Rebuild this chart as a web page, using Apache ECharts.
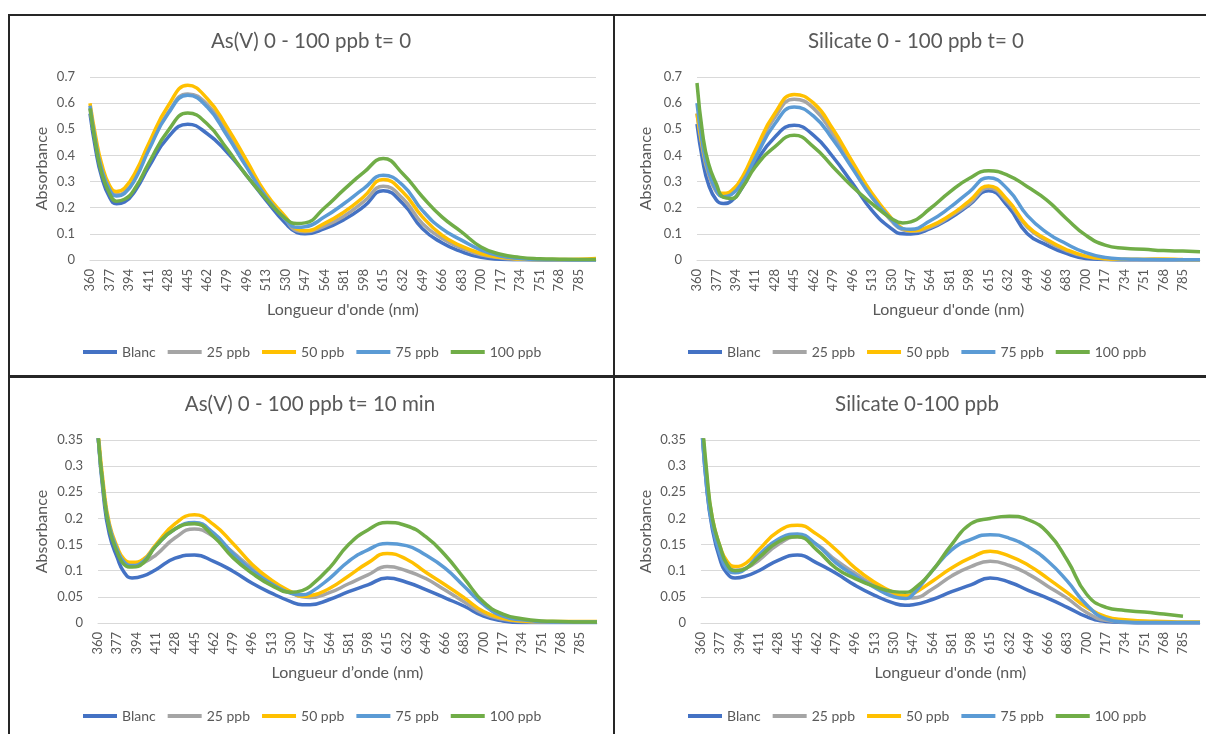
<!DOCTYPE html>
<html><head><meta charset="utf-8">
<script src="https://cdn.jsdelivr.net/npm/echarts@6/dist/echarts.min.js"></script>
<style>html,body{margin:0;padding:0;background:#fff}#c{width:1206px;height:734px}</style>
</head><body><div id="c"></div>
<script>
const wl = [360,365,370,377,383,390,400,411,428,445,462,479,496,513,530,540,547,564,581,598,615,632,649,666,683,700,717,734,751,768,785,800];
const xTickLabels = [360,377,394,411,428,445,462,479,496,513,530,547,564,581,598,615,632,649,666,683,700,717,734,751,768,785];
const seriesNames = ['Blanc','25 ppb','50 ppb','75 ppb','100 ppb'];

// As(V) 0 - 100 ppb t= 0
const asT0_blanc = [.56,.42,.32,.24,.215,.222,.27,.355,.47,.519,.483,.413,.324,.229,.14,.105,.10,.12,.155,.204,.265,.216,.12,.066,.032,.01,.003,.001,0,0,0,0];
const asT0_25 = [.58,.45,.35,.27,.25,.26,.32,.43,.565,.635,.595,.49,.37,.25,.155,.112,.108,.13,.168,.223,.282,.235,.14,.083,.045,.02,.008,.003,.001,0,0,0];
const asT0_50 = [.60,.47,.37,.285,.262,.275,.34,.445,.59,.668,.617,.509,.382,.254,.165,.118,.112,.14,.184,.242,.308,.26,.165,.095,.053,.025,.01,.004,.002,.002,.003,.006];
const asT0_75 = [.59,.45,.35,.27,.245,.255,.315,.42,.56,.63,.585,.477,.356,.242,.155,.125,.127,.165,.216,.273,.324,.286,.19,.12,.076,.038,.015,.006,.002,.001,0,0];
const asT0_100 = [.58,.44,.335,.255,.225,.232,.28,.37,.495,.562,.52,.426,.324,.235,.158,.14,.142,.2,.27,.335,.388,.33,.242,.165,.108,.05,.022,.01,.005,.003,.002,.002];

// Silicate 0 - 100 ppb t= 0
const siT0_blanc = [.52,.38,.29,.229,.216,.225,.28,.369,.47,.515,.477,.394,.293,.19,.12,.10,.099,.12,.159,.21,.265,.205,.10,.057,.025,.006,.002,0,0,0,0,0];
const siT0_25 = [.56,.42,.33,.26,.245,.255,.31,.41,.545,.615,.58,.48,.36,.24,.15,.115,.11,.125,.165,.215,.275,.22,.125,.072,.036,.013,.004,.001,0,0,0,0];
const siT0_50 = [.56,.43,.34,.27,.255,.265,.32,.42,.56,.633,.60,.50,.375,.255,.16,.12,.112,.13,.17,.225,.283,.228,.13,.078,.04,.015,.005,.003,.003,.004,.002,.001];
const siT0_75 = [.60,.44,.34,.265,.242,.25,.30,.39,.52,.585,.55,.46,.35,.24,.155,.12,.118,.15,.20,.26,.315,.27,.17,.105,.062,.028,.01,.004,.002,.001,.001,.001];
const siT0_100 = [.677,.48,.37,.29,.24,.235,.28,.356,.433,.477,.433,.356,.28,.216,.159,.142,.146,.197,.26,.312,.341,.324,.28,.229,.159,.095,.057,.045,.041,.036,.034,.032];

// As(V) 0 - 100 ppb t= 10 min
const asT10_blanc = [.36,.24,.17,.125,.097,.086,.09,.102,.124,.13,.118,.099,.076,.057,.041,.035,.035,.045,.06,.073,.086,.078,.064,.048,.032,.013,.004,.001,.001,.001,.001,.001];
const asT10_25 = [.36,.25,.185,.14,.118,.11,.115,.13,.163,.18,.165,.135,.105,.08,.058,.05,.049,.058,.075,.092,.108,.10,.085,.063,.04,.018,.007,.003,.002,.002,.002,.002];
const asT10_50 = [.37,.26,.19,.145,.122,.116,.122,.15,.19,.207,.188,.152,.112,.082,.06,.051,.052,.066,.09,.115,.133,.122,.097,.073,.048,.022,.009,.004,.003,.003,.003,.003];
const asT10_75 = [.36,.25,.185,.14,.117,.11,.118,.147,.18,.192,.172,.133,.10,.075,.057,.054,.058,.085,.118,.14,.152,.148,.13,.105,.07,.035,.013,.006,.003,.002,.002,.002];
const asT10_100 = [.36,.25,.18,.135,.112,.107,.115,.147,.18,.19,.165,.125,.095,.072,.059,.062,.07,.105,.15,.178,.192,.186,.165,.13,.085,.04,.017,.008,.004,.003,.002,.002];

// Silicate 0-100 ppb
const si_blanc = [.40,.26,.18,.12,.095,.086,.09,.10,.12,.13,.115,.095,.072,.053,.038,.034,.035,.045,.06,.073,.086,.078,.062,.047,.03,.012,.003,.001,0,0,0,0];
const si_25 = [.40,.27,.195,.14,.112,.101,.105,.12,.15,.165,.15,.12,.095,.072,.055,.049,.048,.065,.09,.108,.118,.11,.093,.07,.047,.02,.005,.002,.001,.001,.001,.001];
const si_50 = [.41,.28,.20,.145,.118,.108,.115,.14,.175,.187,.17,.14,.105,.078,.058,.052,.056,.08,.105,.125,.137,.128,.11,.085,.058,.03,.012,.006,.004,.003,.002,.002];
const si_75 = [.40,.26,.185,.13,.103,.096,.105,.13,.16,.17,.15,.115,.09,.068,.05,.047,.055,.10,.14,.16,.169,.162,.145,.118,.08,.035,.008,.002,.001,.001,.001,.001];
const si_100 = [.42,.29,.20,.145,.112,.10,.105,.125,.155,.165,.14,.105,.085,.07,.06,.059,.064,.10,.15,.19,.20,.204,.197,.172,.12,.055,.03,.024,.021,.017,.013,null];

const colors = ['#4472C4','#A5A5A5','#FFC000','#5B9BD5','#70AD47'];
const FONT = 'Lato, "Open Sans", sans-serif';
const TXT = '#595959';

const panels = [
  {title:'As(V) 0 - 100 ppb t= 0', xName:"Longueur d'onde (nm)", yMax:0.7, yInt:0.1,
   data:[asT0_blanc,asT0_25,asT0_50,asT0_75,asT0_100],
   grid:{left:90,top:77,width:506,height:183}, tx:311, ty:31, lx:83, ly:345, yGap:40},
  {title:'Silicate 0 - 100 ppb t= 0', xName:"Longueur d'onde (nm)", yMax:0.7, yInt:0.1,
   data:[siT0_blanc,siT0_25,siT0_50,siT0_75,siT0_100],
   grid:{left:697,top:77,width:503,height:183}, tx:916, ty:31, lx:688, ly:345, yGap:43},
  {title:'As(V) 0 - 100 ppb t= 10 min', xName:"Longueur d\u2019onde (nm)", yMax:0.35, yInt:0.05,
   data:[asT10_blanc,asT10_25,asT10_50,asT10_75,asT10_100],
   grid:{left:98,top:440,width:499,height:183}, tx:310, ty:394, lx:83, ly:709, yGap:48},
  {title:'Silicate 0-100 ppb', xName:"Longueur d'onde (nm)", yMax:0.35, yInt:0.05,
   data:[si_blanc,si_25,si_50,si_75,si_100],
   grid:{left:701,top:440,width:499,height:183}, tx:917, ty:394, lx:688, ly:709, yGap:47}
];

const option = {animation:false, backgroundColor:'#fff', title:[], grid:[], xAxis:[], yAxis:[], legend:[], series:[], graphic:[]};
panels.forEach((p,i)=>{
  option.title.push({text:p.title, left:p.tx, top:p.ty, textAlign:'center', padding:0,
    textStyle:{fontFamily:FONT, fontSize:20.5, fontWeight:'normal', color:TXT}});
  option.grid.push(Object.assign({containLabel:false}, p.grid));
  option.xAxis.push({type:'value', gridIndex:i, min:360, max:800,
    name:p.xName, nameLocation:'middle', nameGap:42,
    nameTextStyle:{fontFamily:FONT, fontSize:16, color:TXT},
    axisLine:{show:true, lineStyle:{color:'#d9d9d9', width:1}},
    axisTick:{show:false}, splitLine:{show:false},
    axisLabel:{customValues:xTickLabels, rotate:90, margin:9, fontFamily:FONT, fontSize:13, color:TXT}});
  option.yAxis.push({type:'value', gridIndex:i, min:0, max:p.yMax, interval:p.yInt,
    name:'Absorbance', nameLocation:'middle', nameGap:p.yGap,
    nameTextStyle:{fontFamily:FONT, fontSize:16, color:TXT},
    axisLine:{show:false}, axisTick:{show:false},
    splitLine:{lineStyle:{color:'#d9d9d9', width:1}},
    axisLabel:{margin:15, fontFamily:FONT, fontSize:13, color:TXT}});
  option.legend.push({left:p.lx, top:p.ly, padding:0, itemWidth:34, itemHeight:4, itemGap:12, icon:'rect',
    data:seriesNames.map(n=>({name:n})),
    textStyle:{fontFamily:FONT, fontSize:14, color:TXT}});
  p.data.forEach((arr,k)=>{
    option.series.push({type:'line', name:seriesNames[k], xAxisIndex:i, yAxisIndex:i,
      data: wl.map((w,j)=>[w, arr[j]]), smooth:true, showSymbol:false, symbol:'none', clip:true,
      color:colors[k], lineStyle:{color:colors[k], width:3.5}, connectNulls:false});
  });
});
// panel borders
const ln = (x1,y1,x2,y2,w)=>({type:'line', shape:{x1,y1,x2,y2}, style:{stroke:'#262626', lineWidth:w}, z:100});
option.graphic = [ln(8,15,1206,15,2), ln(9,15,9,734,2), ln(614,15,614,734,2), ln(9,376.5,1206,376.5,3)];
const chart = echarts.init(document.getElementById('c'), null, {renderer:'canvas'});
chart.setOption(option);
</script></body></html>
